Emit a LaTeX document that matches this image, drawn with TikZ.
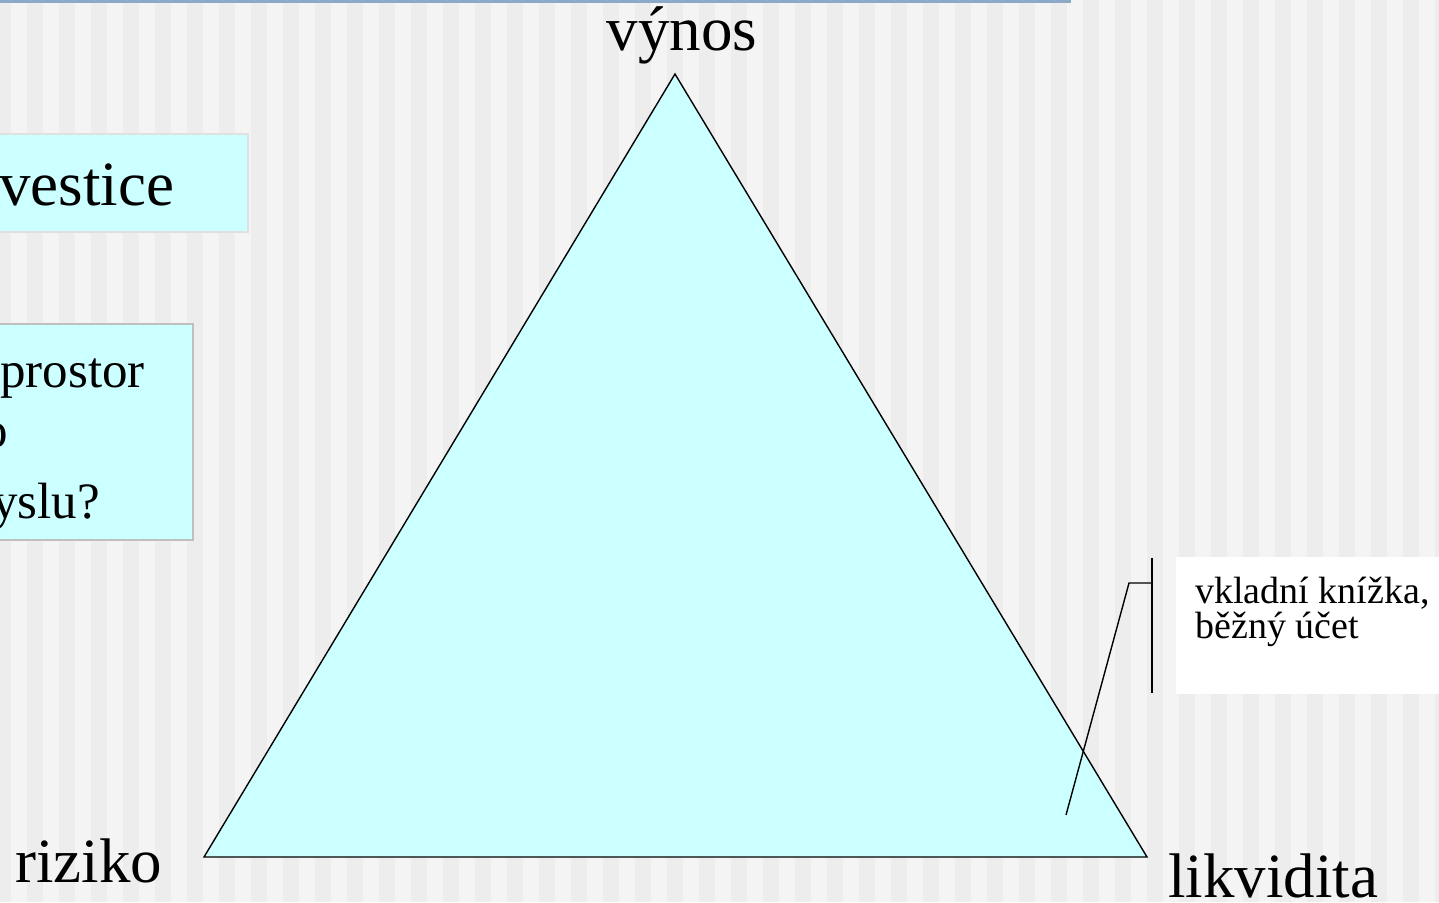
\documentclass[tikz,border=0pt]{standalone}
\usepackage{fontspec}
\setmainfont{Liberation Serif}
\usepackage{tikz}
\usetikzlibrary{positioning}
\definecolor{stripedark}{HTML}{EDEDED}
\definecolor{stripelight}{HTML}{F4F4F4}
\definecolor{topblue}{HTML}{8CAAC8}
\definecolor{paleaqua}{HTML}{CCFFFF}
\tikzset{
  corner/.style={anchor=base west, inner sep=0pt, font=\fontsize{31.5}{36}\selectfont},
  boxtext/.style={anchor=base west, inner sep=0pt, font=\fontsize{25.5}{30}\selectfont},
  aquabox/.style={fill=paleaqua, line width=0.6pt},
  tri/.style={fill=paleaqua, draw=black, line width=0.7pt, line join=miter},
  callout/.style={draw=black, line width=0.7pt},
}
\begin{document}
\begin{tikzpicture}[x=0.5pt, y=-0.5pt]
  \useasboundingbox (0,0) rectangle (1439,902);
  \clip (0,0) rectangle (1439,902);
  % striped background
  \fill[stripedark] (0,0) rectangle (1439,902);
  \foreach \sx in {11,43,...,1439}
    \fill[stripelight] (\sx,0) rectangle ++(16,902);
  \fill[topblue] (0,0) rectangle (1071,2.5);

  % boxes on the left, cut by the page edge
  \draw[aquabox, draw=black!12] (-10,134) rectangle (248,232);
  \node[corner] (inv) at (-1,205) {vestice};
  \draw[aquabox, draw=black!25] (-10,324) rectangle (193,540);
  \node[boxtext] (qa) at (0,387) {prostor};
  \node[boxtext] (qb) at (-18,447) {o};
  \node[boxtext] (qc) at (-8,518) {yslu?};

  % triangle
  \coordinate (ret) at (675,74);
  \coordinate (risk) at (204,857);
  \coordinate (liq) at (1147,857);
  \filldraw[tri] (ret) -- (risk) -- (liq) -- cycle;
  \node[font=\fontsize{31.5}{36}\selectfont, anchor=base, inner sep=0pt] (vyn) at (682,50) {výnos};
  \node[corner] (riz) at (15,882) {riziko};
  \node[corner] (lik) at (1168,897) {likvidita};

  % callout
  \fill[white] (1176,557) rectangle (1450,694);
  \node[anchor=base west, inner sep=0pt, align=left,
    font=\fontsize{19}{17.5}\selectfont] (note) at (1195,638)
    {vkladní knížka,\\běžný účet};
  \coordinate (brtop) at (1152,558);
  \coordinate (brbot) at (1152,693);
  \coordinate (brmid) at (1152,583);
  \coordinate (bend) at (1129,583);
  \coordinate (tip) at (1066,815);
  \draw[callout] (brtop) -- (brbot);
  \draw[callout] (brmid) -- (bend) -- (tip);
\end{tikzpicture}
\end{document}
